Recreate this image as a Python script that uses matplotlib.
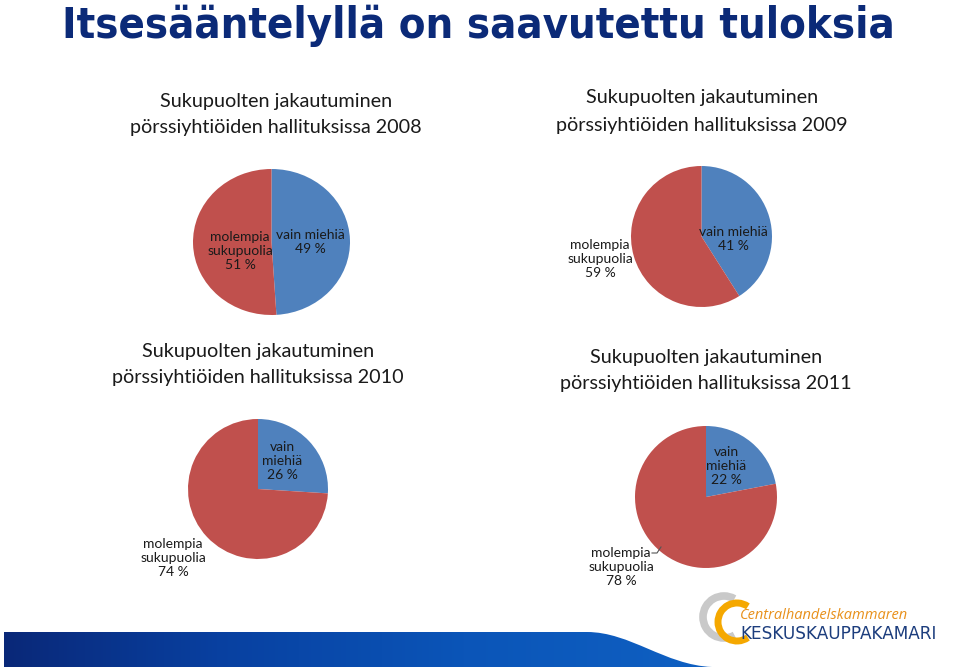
import matplotlib
matplotlib.use("Agg")
import matplotlib.pyplot as plt
import numpy as np
from matplotlib.patches import PathPatch, Arc
from matplotlib.path import Path
from matplotlib.colors import LinearSegmentedColormap

# data
years = ["2008", "2009", "2010", "2011"]
vain_miehia = [49, 41, 26, 22]
molempia = [51, 59, 74, 78]
slice_names = ["vain miehiä", "molempia sukupuolia"]

title = "Itsesääntelyllä on saavutettu tuloksia"
subtitle_1 = "Sukupuolten jakautuminen"
subtitle_2 = "pörssiyhtiöiden hallituksissa"

BLUE = "#4F81BD"
RED = "#C0504D"
NAVY = "#0B2A78"
TXT = "#1a1a1a"
W, H = 960, 670

fig = plt.figure(figsize=(W / 100, H / 100), dpi=100)
fig.patch.set_facecolor("white")

# overlay axes in pixel coordinates (y down)
ov = fig.add_axes([0, 0, 1, 1], zorder=5)
ov.set_xlim(0, W)
ov.set_ylim(H, 0)
ov.axis("off")
ov.patch.set_alpha(0)

# pie boxes in pixels: left, top, width, height
boxes = [(193, 169, 157, 146), (631, 166, 141, 141),
         (188, 419, 140, 140), (635, 426, 142, 142)]

for (l, t, w, h), b, r in zip(boxes, vain_miehia, molempia):
    pa = fig.add_axes([l / W, 1 - (t + h) / H, w / W, h / H])
    pa.pie([b, r], colors=[BLUE, RED], startangle=90, counterclock=False,
           wedgeprops=dict(linewidth=0))
    pa.set_aspect("auto")
    pa.set_xlim(-1, 1)
    pa.set_ylim(-1, 1)
    pa.axis("off")

fnt = ["Lato", "DejaVu Sans"]

# subtitles (x centre, y of line 1, y of line 2)
sub_pos = [(276, 101, 127), (702, 98, 125), (258, 351, 378), (706, 358, 384)]
for (x, y1, y2), yr in zip(sub_pos, years):
    ov.text(x, y1, subtitle_1, ha="center", va="center", fontsize=14.3,
            family=fnt, color=TXT)
    ov.text(x, y2, subtitle_2 + " " + yr, ha="center", va="center",
            fontsize=14.2, family=fnt, color=TXT)

# slice labels
def lab(x, y, s):
    ov.text(x, y, s, ha="center", va="center", fontsize=10, family=fnt,
            color=TXT, linespacing=1.2)

lab(310, 242, "vain miehiä\n%d %%" % vain_miehia[0])
lab(240, 251, "molempia\nsukupuolia\n%d %%" % molempia[0])
lab(733, 239, "vain miehiä\n%d %%" % vain_miehia[1])
lab(600, 259, "molempia\nsukupuolia\n%d %%" % molempia[1])
lab(282, 461, "vain\nmiehiä\n%d %%" % vain_miehia[2])
lab(173, 558, "molempia\nsukupuolia\n%d %%" % molempia[2])
lab(726, 466, "vain\nmiehiä\n%d %%" % vain_miehia[3])
lab(621, 567, "molempia\nsukupuolia\n%d %%" % molempia[3])
ov.plot([652, 657, 661], [553, 553, 547], color="#555555", lw=0.8)

# main title
ov.text(62, 38, title, ha="left", va="baseline", fontsize=31.2,
        fontweight="bold", fontstretch="condensed", family="DejaVu Sans",
        color=NAVY)

# bottom band with gradient
verts = [(4, 632), (587, 632), (630, 632), (665, 665), (712, 667),
         (4, 667), (4, 632)]
codes = [Path.MOVETO, Path.LINETO, Path.CURVE4, Path.CURVE4, Path.CURVE4,
         Path.LINETO, Path.CLOSEPOLY]
band = PathPatch(Path(verts, codes), facecolor="none", edgecolor="none")
ov.add_patch(band)
cmap = LinearSegmentedColormap.from_list(
    "band", [(0, "#0a2878"), (0.3, "#0840a0"), (0.65, "#0b55b8"),
             (1, "#0f60c2")])
grad = np.linspace(0, 1, 256).reshape(1, -1)
im = ov.imshow(grad, cmap=cmap, extent=[4, 712, 667, 632], aspect="auto",
               zorder=2)
im.set_clip_path(band)
ov.set_xlim(0, W)
ov.set_ylim(H, 0)

# logo
ov.add_patch(Arc((724, 617), 42, 42, theta1=60, theta2=300,
                 color="#c9c9c9", lw=5.5))
ov.add_patch(Arc((737, 622), 38, 38, theta1=55, theta2=305,
                 color="#f5a800", lw=5))
ov.text(740, 619, "Centralhandelskammaren", ha="left", va="baseline",
        fontsize=10.5, style="italic", family=["Open Sans", "DejaVu Sans"],
        color="#e8901a")
ov.text(740, 639, "KESKUSKAUPPAKAMARI", ha="left", va="baseline",
        fontsize=12.2, family="DejaVu Sans", color="#1c3d7d")

fig.savefig("out.png", dpi=100)
